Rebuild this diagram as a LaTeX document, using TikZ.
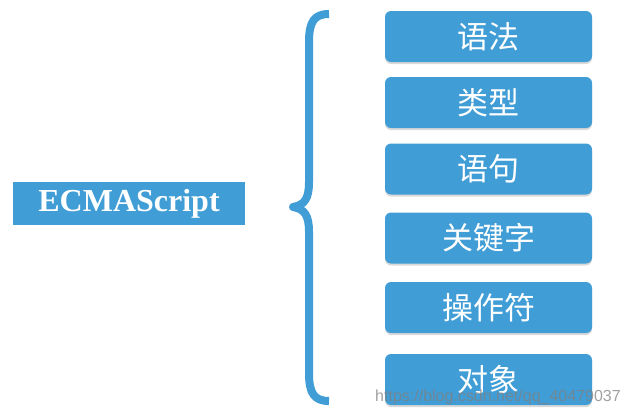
\documentclass[tikz,border=0pt]{standalone}
\usepackage{fontspec}
\setmainfont{Liberation Serif}
\newfontfamily\cjk{Noto Sans CJK SC}
\newfontfamily\marca{Liberation Sans}
\usetikzlibrary{shadows}
\definecolor{azul}{RGB}{64,157,214}
\tikzset{
  raiz/.style={fill=azul, text=white, inner sep=0pt, minimum width=232pt, minimum height=43pt,
    font=\bfseries\fontsize{32}{32}\selectfont},
  hoja/.style={fill=azul, text=white, inner sep=0pt, rounded corners=6pt, minimum width=207pt, minimum height=51pt,
    font=\cjk\fontsize{31}{31}\selectfont, drop shadow={shadow xshift=0pt, shadow yshift=-2pt, opacity=0.3}},
  llave/.style={draw=azul, line width=8pt, line join=round}
}
\begin{document}
\begin{tikzpicture}[x=1pt,y=-1pt]
  \useasboundingbox (0,0) rectangle (631,416);
  % Nodo principal
  \node[raiz] (ecma) at (129,203.5) {ECMAScript};

  % Llave
  \draw[llave] (329,14) .. controls (314,14) and (309,22) .. (309,42) -- (309,182)
    .. controls (309,198) and (305,205) .. (293,207)
    .. controls (305,209) and (309,216) .. (309,232) -- (309,373)
    .. controls (309,393) and (314,401) .. (329,401);

  % Cajas de la derecha
  \node[hoja] (sintaxis)  at (488.5,36.5)  {语法};
  \node[hoja] (tipos)     at (488.5,102.5) {类型};
  \node[hoja] (sentencia) at (488.5,169)   {语句};
  \node[hoja] (claves)    at (488.5,238)   {关键字};
  \node[hoja] (operador)  at (488.5,307.5) {操作符};
  \node[hoja] (objeto)    at (488.5,379.5) {对象};

  % Marca de agua
  \node[text=gray, opacity=0.75, font=\marca\fontsize{16}{16}\selectfont, inner sep=0pt]
    (marca) at (498,397) {https://blog.csdn.net/qq\_40479037};
\end{tikzpicture}
\end{document}
